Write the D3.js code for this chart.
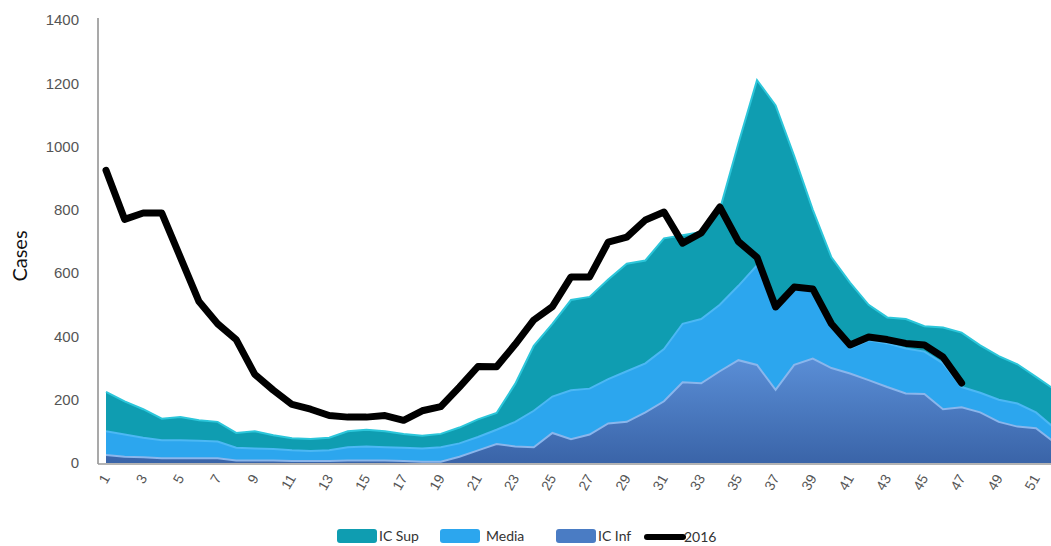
<!DOCTYPE html>
<html>
<head>
<meta charset="utf-8">
<script src="https://cdn.jsdelivr.net/npm/d3@7"></script>
<style>
  body { margin: 0; background: #fff; }
  svg { display: block; font-family: Lato, "Open Sans", sans-serif; }
</style>
</head>
<body>
<svg id="chart"></svg>
<script>
// Chart size
const width = 1051;
const height = 546;

// Weeks 1..52
const weeks = d3.range(1, 53);
const tickWeeks = weeks.filter(w => w % 2 === 1);
const yTicks = [0, 200, 400, 600, 800, 1000, 1200, 1400];

// Upper bound of the confidence band
const icSup = [225, 195, 170, 140, 145, 135, 130, 95, 100, 88, 78, 76, 80, 100, 105, 100, 92, 86, 92, 112,
  138, 158, 250, 370, 440, 515, 525, 580, 630, 640, 710, 720, 730, 800, 1010, 1210, 1130, 970, 800, 650,
  570, 500, 460, 455, 432, 428, 412, 372, 338, 312, 272, 232];

// Mean
const media = [100, 90, 80, 72, 72, 70, 68, 48, 46, 44, 40, 38, 40, 50, 52, 50, 48, 46, 50, 62,
  82, 105, 130, 165, 210, 230, 235, 265, 290, 315, 360, 440, 455, 500, 560, 625, 500, 550, 545, 430,
  362, 388, 378, 362, 352, 315, 240, 222, 200, 188, 160, 110];

// Lower bound
const icInf = [25, 20, 18, 15, 15, 15, 15, 8, 8, 8, 6, 6, 6, 8, 8, 8, 6, 4, 4, 20,
  40, 60, 52, 50, 95, 75, 90, 125, 130, 160, 195, 255, 252, 290, 325, 310, 231, 310, 330, 300,
  283, 262, 240, 220, 218, 170, 176, 160, 130, 115, 110, 65];

// 2016 season (weeks 1..47)
const cases2016 = [925, 770, 790, 790, 650, 510, 440, 390, 280, 230, 185, 170, 150, 145, 145, 150, 135, 165, 178, 240,
  305, 304, 375, 452, 494, 588, 588, 698, 714, 768, 793, 695, 727, 809, 700, 650, 493, 556, 550, 440,
  373, 398, 390, 378, 373, 335, 253];

const svg = d3.select("#chart")
  .attr("width", width)
  .attr("height", height);

// Scales
const x = d3.scaleLinear().domain([1, 52]).range([106, 106 + 51 * 18.6]);
const y = d3.scaleLinear().domain([0, 1400]).range([463, 20]);

// Gradient for the lower band
const defs = svg.append("defs");
const grad = defs.append("linearGradient")
  .attr("id", "infGrad")
  .attr("x1", 0).attr("y1", 0).attr("x2", 0).attr("y2", 1);
grad.append("stop").attr("offset", "0%").attr("stop-color", "#5a8ed6");
grad.append("stop").attr("offset", "100%").attr("stop-color", "#3a64a8");

defs.append("clipPath").attr("id", "plotClip")
  .append("rect").attr("x", 98).attr("y", 0).attr("width", width - 98).attr("height", 464);

const plot = svg.append("g").attr("clip-path", "url(#plotClip)");

const area = d3.area()
  .x((d, i) => x(weeks[i]))
  .y0(y(0))
  .y1(d => y(d));

const edge = d3.line()
  .x((d, i) => x(weeks[i]))
  .y(d => y(d));

const bands = [
  { name: "IC Sup", values: icSup, fill: "#0f9db1", edge: "#2cc6da" },
  { name: "Media", values: media, fill: "#2ca6ee", edge: "#4cb8f4" },
  { name: "IC Inf", values: icInf, fill: "url(#infGrad)", edge: "#8ab6ec" }
];

bands.forEach(b => {
  plot.append("path")
    .datum(b.values)
    .attr("d", area)
    .attr("fill", b.fill);
  plot.append("path")
    .datum(b.values)
    .attr("d", edge)
    .attr("fill", "none")
    .attr("stroke", b.edge)
    .attr("stroke-width", 2);
});

// 2016 line
plot.append("path")
  .datum(cases2016)
  .attr("d", edge)
  .attr("fill", "none")
  .attr("stroke", "#000")
  .attr("stroke-width", 7)
  .attr("stroke-linejoin", "round")
  .attr("stroke-linecap", "round");

// Axis lines
svg.append("line")
  .attr("x1", 98).attr("x2", 98).attr("y1", 18).attr("y2", 464)
  .attr("stroke", "#8c8c8c").attr("stroke-width", 1.5);
svg.append("line")
  .attr("x1", 98).attr("x2", width).attr("y1", 464).attr("y2", 464)
  .attr("stroke", "#9a9a9a").attr("stroke-width", 1.5);

// Y axis labels
const yAxis = svg.append("g")
  .attr("transform", "translate(98,0)")
  .call(d3.axisLeft(y).tickValues(yTicks).tickSize(0).tickPadding(19).tickFormat(d3.format("d")));
yAxis.select(".domain").remove();
yAxis.selectAll("text")
  .attr("fill", "#555")
  .style("font-size", "15px");

// X axis labels, rotated
const xAxis = svg.append("g")
  .attr("transform", "translate(0,464)")
  .call(d3.axisBottom(x).tickValues(tickWeeks).tickSize(0).tickFormat(d3.format("d")));
xAxis.select(".domain").remove();
xAxis.selectAll("text")
  .attr("fill", "#555")
  .style("font-size", "14px")
  .attr("text-anchor", "end")
  .attr("dy", "0.35em")
  .attr("transform", "translate(-3,10) rotate(-60)");

// Y title
svg.append("text")
  .attr("transform", "translate(27,256) rotate(-90)")
  .attr("text-anchor", "middle")
  .style("font-size", "20px")
  .attr("fill", "#111")
  .text("Cases");

// Legend
const legendItems = [
  { name: "IC Sup", fill: "#0f9db1", x: 337, tx: 379 },
  { name: "Media", fill: "#2ca6ee", x: 440, tx: 486 },
  { name: "IC Inf", fill: "#4a7cc4", x: 556, tx: 598 }
];
const legend = svg.append("g").attr("class", "legend");
legendItems.forEach(item => {
  legend.append("rect")
    .attr("x", item.x).attr("y", 529)
    .attr("width", 40).attr("height", 14)
    .attr("rx", 3)
    .attr("fill", item.fill);
  legend.append("text")
    .attr("x", item.tx).attr("y", 541)
    .style("font-size", "14px")
    .attr("fill", "#333")
    .text(item.name);
});
legend.append("line")
  .attr("x1", 647).attr("x2", 683).attr("y1", 537).attr("y2", 537)
  .attr("stroke", "#000").attr("stroke-width", 6).attr("stroke-linecap", "round");
legend.append("text")
  .attr("x", 684).attr("y", 542)
  .style("font-size", "14px")
  .attr("fill", "#333")
  .text("2016");
</script>
</body>
</html>
